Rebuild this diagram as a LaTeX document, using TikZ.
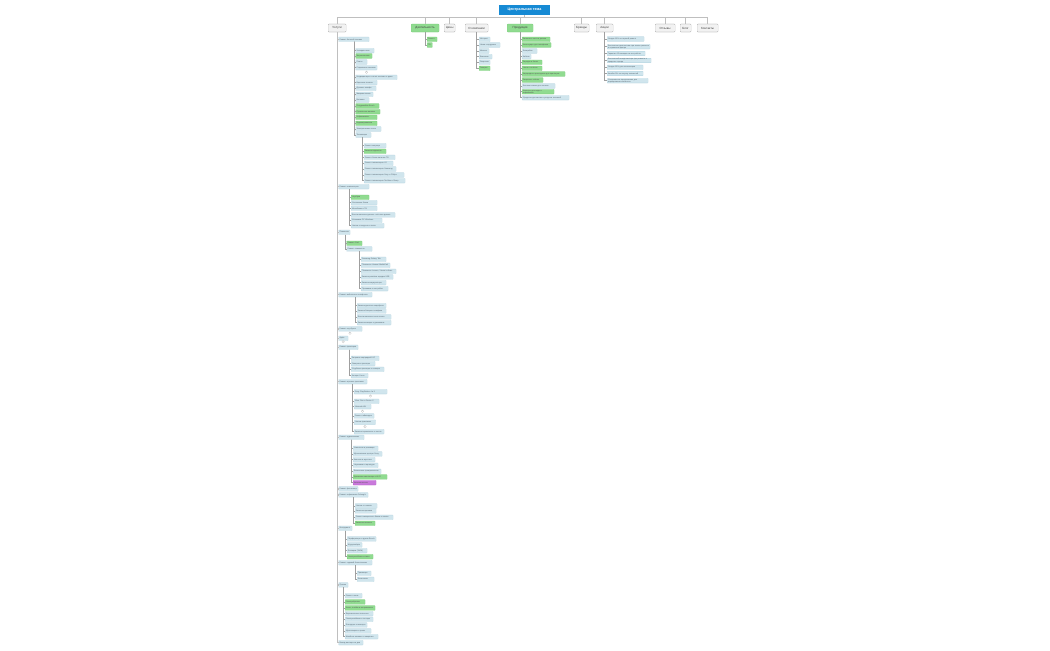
\documentclass[tikz,border=0pt]{standalone}
\usepackage{fontspec}
\setmainfont{Liberation Sans}
\definecolor{leafB}{RGB}{208,229,237}
\definecolor{leafBd}{RGB}{168,204,218}
\definecolor{leafG}{RGB}{144,219,144}
\definecolor{leafGd}{RGB}{110,196,110}
\definecolor{leafP}{RGB}{201,121,219}
\definecolor{leafPd}{RGB}{170,90,190}
\definecolor{topF}{RGB}{242,242,242}
\definecolor{topD}{RGB}{140,140,140}
\definecolor{centF}{RGB}{22,138,212}
\definecolor{txtC}{RGB}{85,100,110}
\tikzset{
  leaf/.style={anchor=west, rectangle, rounded corners=0.4mm, fill=leafB, draw=leafBd, line width=0.3pt,
    inner xsep=1mm, inner ysep=0.3mm, minimum height=4.6mm, align=left,
    font=\fontsize{5.5}{6}\selectfont, text=txtC},
  leafg/.style={leaf, fill=leafG, draw=leafGd, text=black!65},
  leafp/.style={leaf, fill=leafP, draw=leafPd, text=black!65},
  topbox/.style={anchor=west, rectangle, rounded corners=0.8mm, fill=topF, draw=topD, line width=0.5pt,
    minimum height=8mm, inner xsep=1mm, font=\fontsize{8.5}{9}\selectfont, text=black!75},
  topboxg/.style={topbox, fill=leafG, draw=leafGd},
  central/.style={rectangle, fill=centF, text=white, minimum width=51mm, minimum height=10mm,
    font=\fontsize{10.5}{11}\selectfont\bfseries},
  marker/.style={circle, draw=gray!55, fill=white, line width=0.5pt, minimum size=2.6mm, inner sep=0pt,
    font=\fontsize{6}{6}\selectfont\bfseries, text=gray!70},
  conn/.style={draw=gray!75, line width=1.6pt},
  mainconn/.style={draw=gray!50, line width=3pt},
  topline/.style={draw=gray!50, line width=2pt},
}
\newcommand\Lf[6]{\pgfmathsetmacro\lfw{#5-2}\node[#1,text width=\lfw mm] (#2) at (#3,#4) {#6};}
\newcommand\Tp[5]{\node[#1,minimum width=#4mm] (#2) at (#3,28) {#5};}
\newcommand\Br[3]{\foreach \nn in {#3}{\draw[conn] ([xshift=#2mm]#1.south west) |- (\nn.west);}}
\newcommand\Tb[3]{\foreach \nn in {#3}{\draw[#1] (#2.south) |- (\nn.west);}}
\begin{document}
\begin{tikzpicture}[x=1mm,y=-1mm]
\fill[white] (0,0) rectangle (1050,650);
\useasboundingbox (0,0) rectangle (1050,650);

% central and top level
\node[central] (ct) at (524.5,10) {Центральная тема};
\Tp{topbox}{t1}{328}{18}{Услуги}
\Tp{topboxg}{t2}{411}{28}{Деятельность}
\Tp{topbox}{t3}{444}{11}{Цены}
\Tp{topbox}{t4}{465}{23}{О компании}
\Tp{topboxg}{t5}{507}{26}{Продукция}
\Tp{topbox}{t6}{574}{15}{Бренды}
\Tp{topbox}{t7}{596}{17}{Акции}
\Tp{topbox}{t8}{655}{20}{Отзывы}
\Tp{topbox}{t9}{680}{11}{Блог}
\Tp{topbox}{t10}{697}{21}{Контакты}
\foreach \t in {t1,t2,t3,t4,t5,t6,t7,t8,t9,t10}{\draw[topline] (ct.south) -- ++(0,2) -| (\t.north);}

% Услуги
\Lf{leaf}{u1}{338.5}{39.3}{30.5}{Ремонт бытовой техники}
\Lf{leaf}{u1a}{355.5}{50.7}{18.5}{Холодильники}
\Lf{leafg}{u1b}{355.5}{56}{16.5}{Морозильники}
\Lf{leaf}{u1c}{355.5}{62}{11.5}{Плиты}
\Lf{leaf}{u1d}{355.5}{67.7}{21.5}{Стиральные машины}
\node[marker] (m1) at (366.5,72.3) {+};
\Lf{leaf}{u1e}{355.5}{77.3}{41.5}{Кондиционеры и сплит-системы в доме}
\Lf{leaf}{u1f}{355.5}{82.7}{21.5}{Варочные панели}
\Lf{leaf}{u1g}{355.5}{88.3}{20.5}{Духовые шкафы}
\Lf{leaf}{u1h}{355.5}{94.3}{17.5}{Микроволновки}
\Lf{leaf}{u1i}{355.5}{100}{13.5}{Вытяжки}
\Lf{leafg}{u1j}{355.5}{106}{23.5}{Посудомойки Bosch}
\Lf{leafg}{u1k}{355.5}{111.7}{24.5}{Сушильные машины}
\Lf{leafg}{u1l}{355.5}{117.3}{21.5}{Кофемашины}
\Lf{leafg}{u1m}{355.5}{123.3}{21.5}{Водонагреватели}
\Lf{leaf}{u1n}{355.5}{129}{25.5}{Электрические плиты}
\Lf{leaf}{u1o}{355.5}{135}{15.5}{Телевизоры}
\Lf{leaf}{u1o1}{364}{145.7}{22}{Ремонт матрицы}
\Lf{leafg}{u1o2}{364}{151.3}{22}{Замена подсветки}
\Lf{leaf}{u1o3}{364}{157.3}{31}{Ремонт блока питания ТВ}
\Lf{leaf}{u1o4}{364}{163.3}{29}{Ремонт телевизоров LG}
\Lf{leaf}{u1o5}{364}{169}{32}{Ремонт телевизоров Samsung}
\Lf{leaf}{u1o6}{364}{175}{40}{Ремонт телевизоров Sony и Philips}
\Lf{leaf}{u1o7}{364}{180.7}{41}{Ремонт телевизоров Toshiba и Sharp}

\Lf{leaf}{u2}{338.5}{186.7}{30.5}{Ремонт компьютеров}
\Lf{leafg}{u2a}{351}{197.3}{18}{Ноутбуки}
\Lf{leaf}{u2b}{351}{202.7}{26}{Системные блоки}
\Lf{leaf}{u2c}{351}{208.3}{26}{Моноблоки и ПК}
\Lf{leaf}{u2d}{351}{215}{44}{Восстановление данных с жёстких дисков}
\Lf{leaf}{u2e}{351}{220.3}{31}{Установка ОС Windows}
\Lf{leaf}{u2f}{351}{225.7}{33}{Чистка от вирусов и пыли}

\Lf{leaf}{u3}{338.5}{232.3}{11.5}{Планшеты}
\Lf{leafg}{u3a}{346.5}{243.3}{15.5}{Ремонт iPad}
\Lf{leaf}{u3b}{346.5}{249}{25.5}{Ремонт планшетов}
\Lf{leaf}{u3b1}{361}{259.3}{25}{Samsung Galaxy Tab}
\Lf{leaf}{u3b2}{361}{265.3}{29}{Планшеты Huawei MediaPad}
\Lf{leaf}{u3b3}{361}{271.3}{35}{Планшеты Lenovo, Xiaomi и Asus}
\Lf{leaf}{u3b4}{361}{277}{32}{Замена разъёма зарядки USB}
\Lf{leaf}{u3b5}{361}{282.7}{25}{Замена аккумулятора}
\Lf{leaf}{u3b6}{361}{288.7}{27}{Прошивка и настройка}

\Lf{leaf}{u4}{338.5}{294.7}{33.5}{Ремонт мобильных телефонов}
\Lf{leaf}{u4a}{357}{305.7}{29}{Замена дисплея смартфона}
\Lf{leaf}{u4b}{357}{311}{29}{Замена батареи телефона}
\Lf{leaf}{u4c}{357}{317}{34}{Восстановление после влаги}
\Lf{leaf}{u4d}{357}{322.7}{34}{Замена камеры и динамиков}

\Lf{leaf}{u5}{338.5}{329}{23.5}{Ремонт ноутбуков}
\node[marker] (m2) at (350,333.3) {+};
\Lf{leaf}{u6}{338.5}{338.3}{9.5}{Apple}
\node[marker] (m3) at (343.2,341.7) {+};

\Lf{leaf}{u7}{338.5}{347.3}{19.5}{Ремонт принтеров}
\Lf{leaf}{u7a}{351}{358.3}{28}{Заправка картриджей HP}
\Lf{leaf}{u7b}{351}{363.7}{24}{Лазерные принтеры}
\Lf{leaf}{u7c}{351}{369.3}{33}{Струйные принтеры и сканеры}
\Lf{leaf}{u7d}{351}{375.7}{17}{Копиры Xerox}

\Lf{leaf}{u8}{338.5}{381.7}{28.5}{Ремонт игровых приставок}
\Lf{leaf}{u8a}{354}{391.7}{33}{Sony PlayStation 4 и 5}
\node[marker] (m4) at (370.5,396) {+};
\Lf{leaf}{u8b}{354}{401.3}{25}{Xbox One и Series X}
\Lf{leaf}{u8c}{354}{406.7}{17}{Nintendo Wii}
\node[marker] (m5) at (362.5,411.3) {+};
\Lf{leaf}{u8d}{354}{416}{20}{Ремонт геймпадов}
\Lf{leaf}{u8e}{354}{422.2}{21.5}{Чистка приставок}
\node[marker] (m6) at (365,426.6) {+};
\Lf{leaf}{u8f}{354}{431.7}{30}{Замена термопасты и чистка}

\Lf{leaf}{u9}{338.5}{437.3}{25.5}{Ремонт аудиотехники}
\Lf{leaf}{u9a}{353}{448.3}{25}{Усилители и ресиверы}
\Lf{leaf}{u9b}{353}{454}{29}{Музыкальные центры Sony}
\Lf{leaf}{u9c}{353}{459.7}{22}{Колонки и акустика}
\Lf{leaf}{u9d}{353}{465.3}{25}{Наушники и гарнитуры}
\Lf{leaf}{u9e}{353}{471.3}{28}{Виниловые проигрыватели}
\Lf{leafg}{u9f}{353}{477}{34}{Домашние кинотеатры и Hi-Fi}
\Lf{leafp}{u9g}{353}{482.7}{23}{Автомагнитолы}

\Lf{leaf}{u10}{338.5}{489}{19.5}{Ремонт фотокамер}
\Lf{leaf}{u11}{338.5}{495}{29.5}{Ремонт кофемашин Delonghi}
\Lf{leaf}{u11a}{355}{506}{22}{Чистка от накипи}
\Lf{leaf}{u11b}{355}{511}{21}{Замена жерновов}
\Lf{leaf}{u11c}{355}{517.3}{38}{Ремонт заварочного блока и помпы}
\Lf{leafg}{u11d}{355}{523.3}{20}{Замена клапанов}

\Lf{leaf}{u12}{338.5}{528.3}{13.5}{Инструмент}
\Lf{leaf}{u12a}{347}{539}{29}{Перфораторы и дрели Bosch}
\Lf{leaf}{u12b}{347}{545}{15}{Шуруповёрты}
\Lf{leaf}{u12c}{347}{550.7}{20}{Болгарки (УШМ)}
\Lf{leafg}{u12d}{347}{556.7}{26}{Электролобзики и пилы}

\Lf{leaf}{u13}{338.5}{562.7}{33.5}{Ремонт садовой бензотехники}
\Lf{leaf}{u13a}{357}{573.3}{14}{Триммеры}
\Lf{leaf}{u13b}{357}{579.3}{17}{Бензопилы}

\Lf{leaf}{u14}{338.5}{585}{9.5}{Прочее}
\Lf{leaf}{u14a}{345}{595.7}{17}{Ремонт часов}
\Lf{leafg}{u14b}{345}{602}{20}{Электробритвы}
\Lf{leafg}{u14c}{345}{608}{30}{Фены, плойки и выпрямители}
\Lf{leaf}{u14d}{345}{613.7}{28}{Вертикальные пылесосы}
\Lf{leaf}{u14e}{345}{619.3}{28}{Электрочайники и тостеры}
\Lf{leaf}{u14f}{345}{625}{22}{Блендеры и миксеры}
\Lf{leaf}{u14g}{345}{631}{26}{Мультиварки и грили}
\Lf{leaf}{u14h}{345}{636.7}{33}{Швейные машины и оверлоки}

\Lf{leaf}{u15}{338.5}{642.7}{24.5}{Выезд мастера на дом}

% Деятельность
\Lf{leafg}{d1}{427}{39.3}{10}{Ремонт}
\Lf{leafg}{d2}{427}{45}{5.3}{ТО}
% О компании
\Lf{leaf}{o1}{479}{39.3}{11}{История}
\Lf{leaf}{o2}{479}{45}{21}{Наши сотрудники}
\Lf{leaf}{o3}{479}{51}{10}{Миссия}
\Lf{leaf}{o4}{479}{56.7}{13}{Вакансии}
\Lf{leaf}{o5}{479}{62.3}{11}{Лицензии}
\Lf{leafg}{o6}{479}{68.3}{11}{Галерея}
% Продукция
\Lf{leafg}{p1}{522}{39.3}{28}{Запасные части и детали}
\Lf{leafg}{p2}{522}{45}{29}{Аксессуары для телефонов}
\Lf{leaf}{p3}{522}{51}{15}{Батарейки}
\Lf{leaf}{p4}{522}{56.7}{9}{Кабели}
\Lf{leafg}{p5}{522}{62.3}{20}{Зарядки и блоки}
\Lf{leafg}{p6}{522}{68.3}{20}{Чехлы и плёнки}
\Lf{leafg}{p7}{522}{74}{43}{Картриджи и расходники для принтеров}
\Lf{leafg}{p8}{522}{80}{21}{Защитные стёкла}
\Lf{leaf}{p9}{522}{86}{33}{Бытовая химия для техники}
\Lf{leafg}{p10}{522}{91.7}{32}{Фильтры для воды и кофемашин}
\Lf{leaf}{p11}{522}{97.7}{47}{Средства для чистки и ухода за техникой}
% Акции
\Lf{leaf}{a1}{607}{39}{37}{Скидка 10\% на первый ремонт}
\Lf{leaf}{a2}{607}{46.7}{43}{Бесплатная диагностика при заказе ремонта в сервисном центре}
\Lf{leaf}{a3}{607}{53.5}{38}{Гарантия 12 месяцев на все работы}
\Lf{leaf}{a4}{607}{60.5}{44}{Бесплатный выезд мастера при ремонте в пределах города}
\Lf{leaf}{a5}{607}{67.3}{36}{Скидка 15\% для пенсионеров}
\Lf{leaf}{a6}{607}{73.5}{36}{Кешбэк 5\% на покупку запчастей}
\Lf{leaf}{a7}{607}{80.7}{41}{Специальные предложения для корпоративных клиентов}

% connectors
\Tb{mainconn}{t1}{u1,u2,u3,u4,u5,u6,u7,u8,u9,u10,u11,u12,u13,u14,u15}
\Tb{conn}{t2}{d1,d2}
\Tb{conn}{t4}{o1,o2,o3,o4,o5,o6}
\Tb{conn}{t5}{p1,p2,p3,p4,p5,p6,p7,p8,p9,p10,p11}
\Tb{conn}{t7}{a1,a2,a3,a4,a5,a6,a7}
\Br{u1}{15.5}{u1a,u1b,u1c,u1d,u1e,u1f,u1g,u1h,u1i,u1j,u1k,u1l,u1m,u1n,u1o}
\Br{u1o}{7}{u1o1,u1o2,u1o3,u1o4,u1o5,u1o6,u1o7}
\Br{u2}{11}{u2a,u2b,u2c,u2d,u2e,u2f}
\Br{u3}{6.5}{u3a,u3b}
\Br{u3b}{13}{u3b1,u3b2,u3b3,u3b4,u3b5,u3b6}
\Br{u4}{17}{u4a,u4b,u4c,u4d}
\Br{u7}{11}{u7a,u7b,u7c,u7d}
\Br{u8}{14}{u8a,u8b,u8c,u8d,u8e,u8f}
\Br{u9}{13}{u9a,u9b,u9c,u9d,u9e,u9f,u9g}
\Br{u11}{15}{u11a,u11b,u11c,u11d}
\Br{u12}{7}{u12a,u12b,u12c,u12d}
\Br{u13}{17}{u13a,u13b}
\Br{u14}{5}{u14a,u14b,u14c,u14d,u14e,u14f,u14g,u14h}
\end{tikzpicture}
\end{document}
